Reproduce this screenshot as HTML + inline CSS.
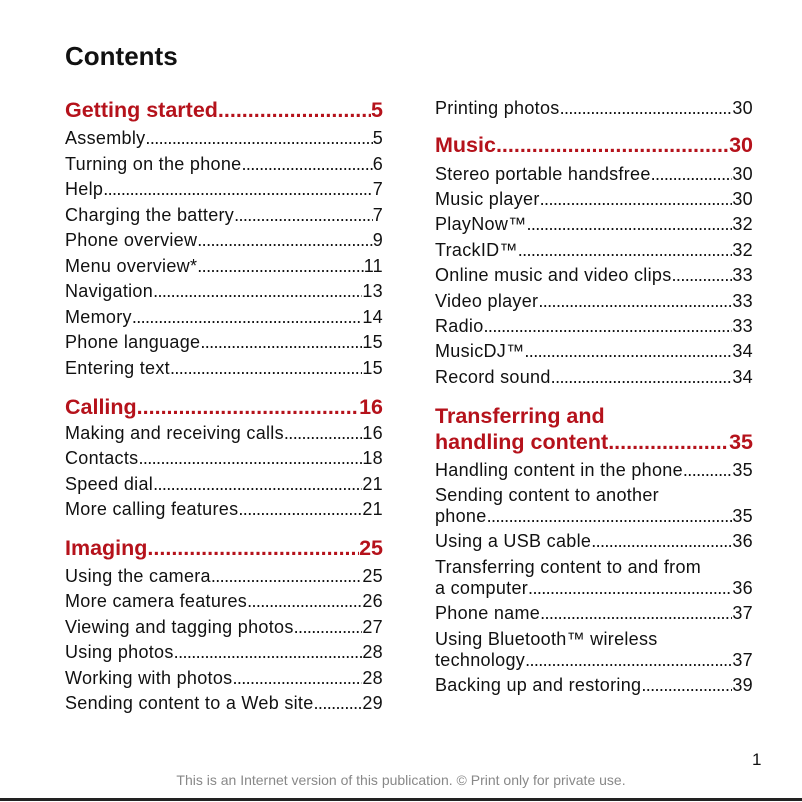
<!DOCTYPE html>
<html><head><meta charset="utf-8"><style>
body{margin:0;width:802px;height:802px;background:#fff;position:relative;overflow:hidden;font-family:"Liberation Sans",Arial,sans-serif;color:#111}
.r{position:absolute;display:flex;white-space:nowrap;overflow:hidden;font-size:18px;letter-spacing:0.3px;line-height:20px;height:20px}
.r .t{flex:none}
.r .d{flex:1;overflow:hidden;letter-spacing:-0.6px}
.r .n{flex:none}
.p{position:absolute;font-size:18px;letter-spacing:0.3px;line-height:20px;white-space:nowrap}
.h{font-size:21.5px;letter-spacing:0;line-height:26px;height:26px;font-weight:bold;color:#b5121b}
.h .d{letter-spacing:0}
.L{left:65px;width:318px}
.R{left:435px;width:318px}
</style></head><body>
<div style="position:absolute;left:65px;top:40px;font-size:26px;font-weight:bold;line-height:32px">Contents</div>
<div id="toc"></div>
<div style="position:absolute;left:752px;top:750px;font-size:17px;line-height:20px">1</div>
<div style="position:absolute;left:0;width:802px;text-align:center;top:772px;font-size:14px;color:#888;line-height:16px">This is an Internet version of this publication. © Print only for private use.</div>
<div style="position:absolute;left:0;width:802px;top:798px;height:3px;background:#222"></div>
<script>
const dots='.'.repeat(200);
const items=[
['L',110,1,'Getting started','5'],['L',138,0,'Assembly','5'],['L',164,0,'Turning on the phone','6'],['L',189,0,'Help','7'],['L',215,0,'Charging the battery','7'],['L',240,0,'Phone overview','9'],['L',266,0,'Menu overview*','11'],['L',291,0,'Navigation','13'],['L',317,0,'Memory','14'],['L',342,0,'Phone language','15'],['L',368,0,'Entering text','15'],
['L',407,1,'Calling','16'],['L',433,0,'Making and receiving calls','16'],['L',458,0,'Contacts','18'],['L',484,0,'Speed dial','21'],['L',509,0,'More calling features','21'],
['L',548,1,'Imaging ','25'],['L',576,0,'Using the camera','25'],['L',601,0,'More camera features','26'],['L',627,0,'Viewing and tagging photos','27'],['L',652,0,'Using photos','28'],['L',678,0,'Working with photos','28'],['L',703,0,'Sending content to a Web site','29'],
['R',108,0,'Printing photos','30'],['R',145,1,'Music ','30'],['R',174,0,'Stereo portable handsfree','30'],['R',199,0,'Music player','30'],['R',224,0,'PlayNow™','32'],['R',250,0,'TrackID™ ','32'],['R',275,0,'Online music and video clips','33'],['R',301,0,'Video player','33'],['R',326,0,'Radio ','33'],['R',351,0,'MusicDJ™','34'],['R',377,0,'Record sound ','34'],
['R',442,1,'handling content','35'],['R',470,0,'Handling content in the phone','35'],['R',516,0,'phone','35'],['R',541,0,'Using a USB cable','36'],['R',588,0,'a computer','36'],['R',613,0,'Phone name','37'],['R',660,0,'technology','37'],['R',685,0,'Backing up and restoring','39']
];
const plain=[[435,416,1,'Transferring and'],[435,495,0,'Sending content to another'],[435,567,0,'Transferring content to and from'],[435,639,0,'Using Bluetooth™ wireless']];
const toc=document.getElementById('toc');
items.forEach(it=>{
 const [c,y,h,t,n]=it;
 const el=document.createElement('div');
 el.className='r '+c+(h?' h':'');
 el.style.top=(y-(h?13:10))+'px';
 
 
 el.innerHTML='<span class="t"></span><span class="d">'+dots+'</span><span class="n"></span>';
 el.children[0].textContent=t;el.children[2].textContent=n;
 toc.appendChild(el);
});
plain.forEach(p=>{
 const [x,y,h,t]=p;
 const el=document.createElement('div');
 el.className='p'+(h?' h':'');
 el.style.left=x+'px';el.style.top=(y-(h?13:10))+'px';
 
 
 el.textContent=t;
 toc.appendChild(el);
});
</script>
</body></html>
